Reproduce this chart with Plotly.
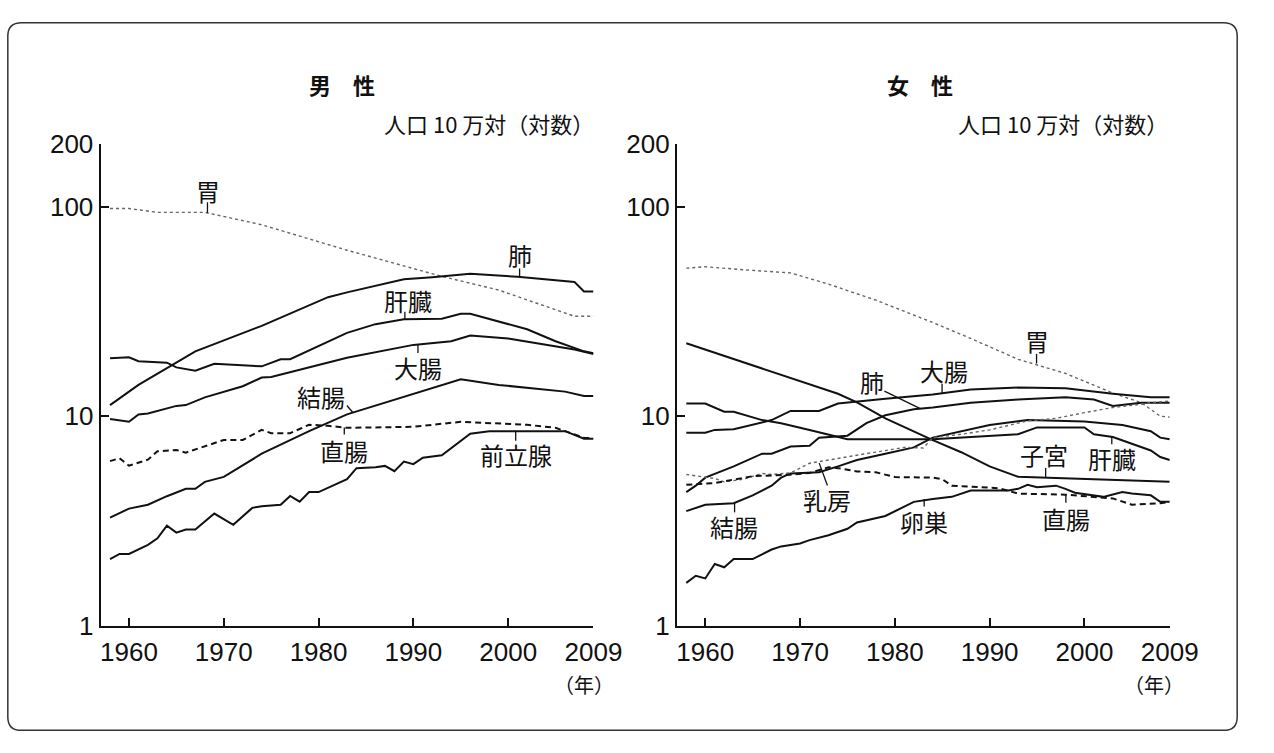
import plotly.graph_objects as go

W, H = 1274, 753

# ---------------- data (rate per 100,000, log scale) ----------------
# Male
stomach_m_years = [1958, 1960, 1963, 1968, 1974, 1983, 1993, 1999, 2007, 2009]
stomach_m_vals = [98, 98, 94, 94, 82, 62, 46.5, 40, 30, 30]

lung_m_years = [1958, 1961, 1967, 1974, 1981, 1983, 1989, 1992, 1996, 2001, 2007, 2008, 2009]
lung_m_vals = [11.3, 14.1, 20.4, 27, 37, 39, 45, 46, 47.8, 46.3, 43.7, 39.4, 39.4]

liver_m_years = [1958, 1960, 1961, 1964, 1965, 1967, 1969, 1974, 1976, 1977, 1983, 1986, 1989,
                 1993, 1995, 1996, 2002, 2005, 2008, 2009]
liver_m_vals = [18.9, 19.1, 18.3, 18.0, 17.1, 16.5, 17.8, 17.3, 18.7, 18.7, 25, 27.5, 29,
                29.2, 30.8, 30.8, 26, 22.8, 20.4, 20]

largeint_m_years = [1958, 1960, 1961, 1962, 1965, 1966, 1968, 1972, 1974, 1975, 1983, 1990,
                    1994, 1996, 2000, 2007, 2009]
largeint_m_vals = [9.7, 9.4, 10.2, 10.3, 11.2, 11.3, 12.3, 13.9, 15.3, 15.4, 19.0, 21.9,
                   22.8, 24.3, 23.5, 20.8, 19.8]

colon_m_years = [1958, 1960, 1962, 1964, 1966, 1967, 1968, 1970, 1974, 1979, 1983, 1993,
                 1995, 1999, 2006, 2008, 2009]
colon_m_vals = [3.28, 3.62, 3.78, 4.15, 4.5, 4.5, 4.86, 5.13, 6.62, 8.48, 10.2, 14.1,
                15.0, 14.1, 13.1, 12.5, 12.5]

rectum_m_years = [1958, 1959, 1960, 1962, 1963, 1965, 1966, 1970, 1972, 1974, 1975, 1977,
                  1979, 1981, 1983, 1990, 1995, 2002, 2005, 2008, 2009]
rectum_m_vals = [6.1, 6.3, 5.8, 6.2, 6.8, 6.9, 6.7, 7.7, 7.7, 8.6, 8.3, 8.3,
                 9.1, 9.0, 8.8, 8.9, 9.4, 9.1, 8.8, 7.9, 7.85]

prostate_m_years = [1958, 1959, 1960, 1962, 1963, 1964, 1965, 1966, 1967, 1969, 1971, 1973,
                    1974, 1976, 1977, 1978, 1979, 1980, 1983, 1984, 1986, 1987, 1988, 1989,
                    1990, 1991, 1993, 1996, 1998, 2006, 2008, 2009]
prostate_m_vals = [2.08, 2.2, 2.2, 2.43, 2.61, 3.0, 2.78, 2.88, 2.88, 3.43, 3.03, 3.65,
                   3.72, 3.78, 4.16, 3.91, 4.34, 4.34, 5.0, 5.65, 5.7, 5.79, 5.46, 6.07,
                   5.9, 6.33, 6.51, 8.24, 8.48, 8.48, 7.8, 7.8]

# Female
stomach_f_years = [1958, 1960, 1964, 1969, 1973, 1978, 1984, 1988, 1993, 1998, 2003, 2006, 2008, 2009]
stomach_f_vals = [50.9, 51.7, 50, 48.3, 42.7, 35.8, 28, 23.5, 18.7, 16, 12.9, 11.6, 10, 9.9]

uterus_f_years = [1958, 1974, 1976, 1979, 1984, 1987, 1990, 1993, 2009]
uterus_f_vals = [22.3, 12.8, 11.65, 9.77, 7.68, 6.73, 5.76, 5.14, 4.86]

liver_f_years = [1958, 1960, 1962, 1963, 1966, 1968, 1971, 1975, 1984, 1993, 1995, 2000,
                 2001, 2003, 2007, 2008, 2009]
liver_f_vals = [11.5, 11.5, 10.5, 10.5, 9.58, 9.26, 8.6, 7.76, 7.76, 8.2, 8.84, 8.84,
                8.2, 7.95, 6.86, 6.38, 6.18]

largeint_f_years = [1958, 1960, 1961, 1963, 1967, 1969, 1972, 1974, 1979, 1984, 1988, 1993,
                    1998, 2003, 2007, 2009]
largeint_f_vals = [8.33, 8.33, 8.6, 8.66, 9.58, 10.6, 10.6, 11.5, 12.1, 12.7, 13.4, 13.7,
                   13.6, 12.8, 12.3, 12.3]

lung_f_years = [1958, 1959, 1960, 1963, 1966, 1967, 1969, 1971, 1972, 1975, 1977, 1979,
                1982, 1984, 1988, 1993, 1998, 2001, 2003, 2006, 2009]
lung_f_vals = [4.34, 4.66, 5.09, 5.76, 6.62, 6.62, 7.16, 7.23, 7.9, 8.07, 9.26, 10.1,
               10.8, 11.0, 11.6, 12.0, 12.3, 12.0, 11.2, 11.6, 11.6]

colon_f_years = [1958, 1960, 1963, 1965, 1967, 1968, 1969, 1972, 1974, 1976, 1979, 1982,
                 1984, 1987, 1990, 1994, 2000, 2004, 2007, 2008, 2009]
colon_f_vals = [3.52, 3.78, 3.84, 4.19, 4.66, 5.09, 5.33, 5.4, 5.76, 6.18, 6.62, 7.1,
                7.9, 8.48, 9.08, 9.58, 9.42, 9.08, 8.48, 7.9, 7.76]

breast_f_years = [1958, 1961, 1962, 1964, 1966, 1967, 1969, 1971, 1972, 1974, 1976, 1979,
                  1981, 1983, 1984, 1987, 1990, 1994, 1997, 2000, 2002, 2003, 2006, 2007, 2009]
breast_f_vals = [5.27, 5.04, 4.86, 5.0, 5.33, 5.27, 5.36, 5.96, 6.07, 6.28, 6.5, 6.86,
                 7.1, 7.05, 7.9, 8.2, 8.6, 9.5, 9.77, 10.4, 10.8, 11.0, 11.4, 11.6, 11.8]

rectum_f_years = [1958, 1961, 1965, 1969, 1971, 1973, 1974, 1976, 1978, 1980, 1984, 1985,
                  1986, 1991, 1993, 1998, 2003, 2005, 2008, 2009]
rectum_f_vals = [4.7, 4.8, 5.17, 5.26, 5.36, 5.7, 5.65, 5.45, 5.4, 5.12, 5.09, 5.0,
                 4.66, 4.53, 4.27, 4.22, 4.05, 3.78, 3.84, 3.9]

ovary_f_years = [1958, 1959, 1960, 1961, 1962, 1963, 1965, 1967, 1968, 1970, 1971, 1973,
                 1975, 1976, 1979, 1981, 1982, 1984, 1986, 1988, 1992, 1993, 1994, 1995,
                 1997, 1998, 1999, 2002, 2004, 2005, 2007, 2008, 2009]
ovary_f_vals = [1.6, 1.73, 1.68, 1.97, 1.9, 2.08, 2.08, 2.31, 2.39, 2.47, 2.56, 2.7,
                2.9, 3.11, 3.34, 3.7, 3.9, 4.02, 4.12, 4.42, 4.42, 4.5, 4.7, 4.58,
                4.66, 4.5, 4.31, 4.12, 4.34, 4.27, 4.19, 3.9, 3.9]

x_tickvals = [1960, 1970, 1980, 1990, 2000, 2009]
x_ticktext = ["1960", "1970", "1980", "1990", "2000", "2009"]
y_tickvals = [1, 10, 100, 200]
y_ticktext = ["1", "10", "100", "200"]

panel_titles = ["男\u3000性", "女\u3000性"]
unit_text = "人口 10 万対（対数）"
year_unit = "（年）"

# ---------------- styles ----------------
SOLID = dict(color="#111111", width=2.0)
DOTTED = dict(color="#666666", width=1.4, dash="dot")
DASHED = dict(color="#111111", width=2.0, dash="6px,4px")

male_series = [
    (stomach_m_years, stomach_m_vals, DOTTED),
    (lung_m_years, lung_m_vals, SOLID),
    (liver_m_years, liver_m_vals, SOLID),
    (largeint_m_years, largeint_m_vals, SOLID),
    (colon_m_years, colon_m_vals, SOLID),
    (rectum_m_years, rectum_m_vals, DASHED),
    (prostate_m_years, prostate_m_vals, SOLID),
]
female_series = [
    (stomach_f_years, stomach_f_vals, DOTTED),
    (uterus_f_years, uterus_f_vals, SOLID),
    (liver_f_years, liver_f_vals, SOLID),
    (largeint_f_years, largeint_f_vals, SOLID),
    (lung_f_years, lung_f_vals, SOLID),
    (colon_f_years, colon_f_vals, SOLID),
    (breast_f_years, breast_f_vals, DOTTED),
    (rectum_f_years, rectum_f_vals, DASHED),
    (ovary_f_years, ovary_f_vals, SOLID),
]

fig = go.Figure()
for xs, ys, st in male_series:
    fig.add_trace(go.Scatter(x=xs, y=ys, mode="lines", line=st, xaxis="x", yaxis="y",
                             showlegend=False, hoverinfo="skip"))
for xs, ys, st in female_series:
    fig.add_trace(go.Scatter(x=xs, y=ys, mode="lines", line=st, xaxis="x2", yaxis="y2",
                             showlegend=False, hoverinfo="skip"))


def px(x):
    return x / W


def py(y):
    return 1 - y / H


YDOM = [py(636), py(134)]
XDOM1 = [px(102.9), px(607.3)]
XDOM2 = [px(692.6), px(1197)]

TICKFONT = dict(family="Liberation Sans, Arial, sans-serif", size=26, color="#111")

xcommon = dict(range=[1957, 2009], tickvals=x_tickvals, ticktext=x_ticktext,
               showline=True, linecolor="#111", linewidth=2, ticks="inside", ticklen=8,
               tickwidth=1.5, tickcolor="#111", showgrid=False, zeroline=False,
               tickfont=TICKFONT, fixedrange=True, ticklabelstandoff=2)
ycommon = dict(type="log", range=[0, 2.30103], tickvals=y_tickvals, ticktext=y_ticktext,
               showline=True, linecolor="#111", linewidth=2, ticks="inside", ticklen=8,
               tickwidth=1.5, tickcolor="#111", showgrid=False, zeroline=False,
               tickfont=TICKFONT, fixedrange=True)

fig.update_layout(
    width=W, height=H, autosize=False,
    margin=dict(l=0, r=0, t=0, b=0),
    paper_bgcolor="white", plot_bgcolor="white",
    xaxis=dict(domain=XDOM1, anchor="y", **xcommon),
    yaxis=dict(domain=YDOM, anchor="x", **ycommon),
    xaxis2=dict(domain=XDOM2, anchor="y2", **xcommon),
    yaxis2=dict(domain=YDOM, anchor="x2", **ycommon),
    showlegend=False,
)

CJK = "Noto Sans CJK JP, sans-serif"
annotations = []


def text(x, y, s, size=24, bold=False, xanchor="center"):
    annotations.append(dict(x=px(x), y=py(y), xref="paper", yref="paper", text=(f"<b>{s}</b>" if bold else s),
                            showarrow=False, xanchor=xanchor, yanchor="middle",
                            font=dict(family=CJK, size=size, color="#111")))


# titles and units
text(350, 72, panel_titles[0], size=22, bold=True)
text(941, 72, panel_titles[1], size=22, bold=True)
text(610, 112, unit_text, size=22, xanchor="right")
text(1197, 112, unit_text, size=22, xanchor="right")
text(598, 697, year_unit, size=20)
text(1181, 697, year_unit, size=20)

# series labels (pixel positions) and their leader lines
labels = [
    ("胃", 213, 183), ("肺", 532, 249), ("肝臓", 418, 297), ("大腸", 428, 367),
    ("結腸", 328, 397), ("直腸", 352, 454), ("前立腺", 528, 458),
    ("胃", 1061, 339), ("大腸", 966, 370), ("肺", 892, 382), ("子宮", 1068, 458),
    ("肝臓", 1138, 462), ("乳房", 846, 505), ("結腸", 751, 533), ("卵巣", 946, 528),
    ("直腸", 1091, 524),
]
for s, x, y in labels:
    text(x, y, s, size=24)

leaders = [
    (212.3, 195, 212.3, 206), (531.7, 264, 531.7, 272.5), (414.3, 309, 414.3, 317),
    (427.7, 343, 427.7, 352), (355, 406.7, 361, 414), (352.3, 429.5, 352.3, 437),
    (527.7, 433, 527.7, 443.5),
    (1060.7, 353, 1060.7, 363), (964, 384, 964, 394.5), (905, 391.7, 941.7, 410),
    (1070, 471.7, 1070, 481), (1137.7, 439.5, 1137.7, 447), (838.3, 466.7, 846.7, 490),
    (751.7, 508.5, 751.7, 518), (945.7, 504, 945.7, 512), (1090.7, 499.5, 1090.7, 508),
]
shapes = []
for x0, y0, x1, y1 in leaders:
    shapes.append(dict(type="line", xref="paper", yref="paper", x0=px(x0), y0=py(y0),
                       x1=px(x1), y1=py(y1), line=dict(color="#111", width=1.3)))

# rounded outer frame
L, T, R, B, r = 8, 8, 1266, 745, 14
pts = (f"M {px(L + r)},{py(T)} L {px(R - r)},{py(T)} Q {px(R)},{py(T)} {px(R)},{py(T + r)} "
       f"L {px(R)},{py(B - r)} Q {px(R)},{py(B)} {px(R - r)},{py(B)} "
       f"L {px(L + r)},{py(B)} Q {px(L)},{py(B)} {px(L)},{py(B - r)} "
       f"L {px(L)},{py(T + r)} Q {px(L)},{py(T)} {px(L + r)},{py(T)} Z")
shapes.append(dict(type="path", xref="paper", yref="paper", path=pts,
                   line=dict(color="#333", width=1.5)))

fig.update_layout(annotations=annotations, shapes=shapes)
fig.write_html(
    "out.html",
    config={"displayModeBar": False},
    post_script="document.body.style.margin='0';document.body.style.overflow='hidden';",
)
